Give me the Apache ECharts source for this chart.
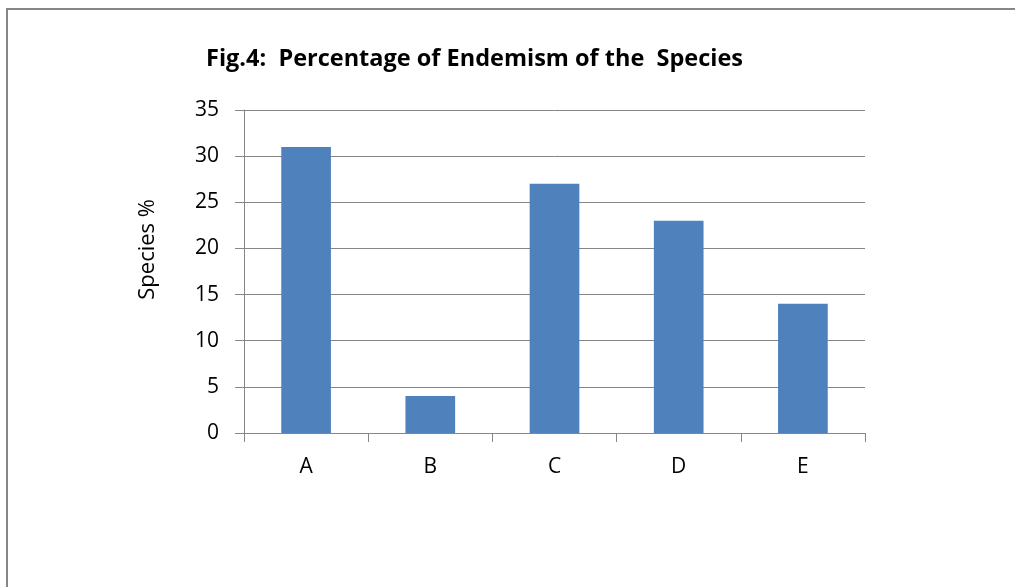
<!DOCTYPE html>
<html>
<head>
<meta charset="utf-8">
<script src="https://cdn.jsdelivr.net/npm/echarts@6/dist/echarts.min.js"></script>
<style>
  html, body { margin: 0; padding: 0; background: #fff; }
  #frame { position: absolute; left: 6px; top: 8px; width: 1100px; height: 700px; border-left: 2px solid #868686; border-top: 2px solid #868686; }
  #chart { position: absolute; left: 0; top: 0; width: 1015px; height: 587px; }
</style>
</head>
<body>
<div id="frame"></div>
<div id="chart"></div>
<script>
const categories = ['A', 'B', 'C', 'D', 'E'];
const speciesPercent = [31, 4, 27, 23, 14];
const titleText = 'Fig.4:  Percentage of Endemism of the  Species';
const yAxisTitle = 'Species %';

const chart = echarts.init(document.getElementById('chart'));
const FONT = 'Open Sans';
chart.setOption({
  animation: false,
  title: {
    text: titleText,
    left: 201,
    top: 42,
    textStyle: { fontFamily: FONT, fontWeight: 'bold', fontSize: 23.5, color: '#000' }
  },
  grid: { left: 244, right: 150, top: 110, bottom: 154, containLabel: false },
  xAxis: {
    type: 'category',
    data: categories,
    boundaryGap: true,
    axisLine: { lineStyle: { color: '#868686', width: 1 } },
    axisTick: { show: true, alignWithLabel: false, length: 9, lineStyle: { color: '#868686' } },
    axisLabel: { color: '#000', fontFamily: FONT, fontSize: 21, margin: 24 }
  },
  yAxis: {
    type: 'value',
    min: 0, max: 35, interval: 5,
    axisLine: { show: true, lineStyle: { color: '#868686', width: 1 } },
    axisTick: { show: true, length: 9, lineStyle: { color: '#868686' } },
    axisLabel: { color: '#000', fontFamily: FONT, fontSize: 21, margin: 25 },
    splitLine: { show: true, lineStyle: { color: '#868686', width: 1 } }
  },
  graphic: [{
    type: 'text',
    left: 137,
    top: 199,
    rotation: Math.PI / 2,
    style: { text: yAxisTitle, font: '22px "Open Sans"', fill: '#000' }
  }],
  series: [{
    type: 'bar',
    data: speciesPercent,
    barWidth: '40%',
    itemStyle: { color: '#4F81BD' }
  }]
});
</script>
</body>
</html>
